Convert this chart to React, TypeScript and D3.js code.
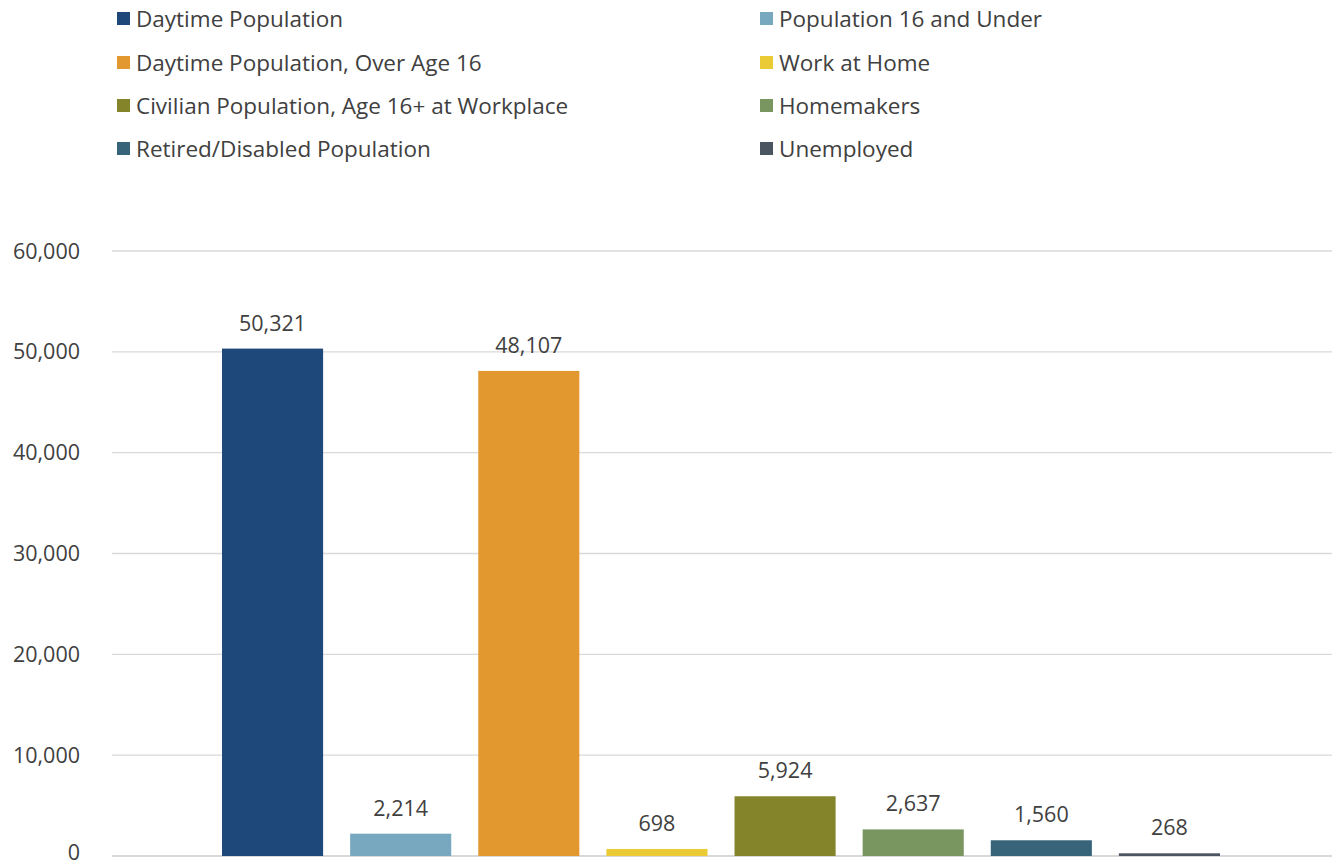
import React from "react";
import * as d3 from "d3";

const categories = [
  "Daytime Population",
  "Population 16 and Under",
  "Daytime Population, Over Age 16",
  "Work at Home",
  "Civilian Population, Age 16+ at Workplace",
  "Homemakers",
  "Retired/Disabled Population",
  "Unemployed",
];
const values = [50321, 2214, 48107, 698, 5924, 2637, 1560, 268];
const colors = ["#1F487A", "#78A8BF", "#E3982F", "#EACB35", "#84852A", "#7A9660", "#386479", "#4B5461"];
const yTicks = [0, 10000, 20000, 30000, 40000, 50000, 60000];

const W = 1332, H = 867;
const FONT = "'Open Sans', 'Noto Sans', sans-serif";

export default function App() {
  const y = d3.scaleLinear().domain([0, 60000]).range([856, 251]);
  const x = d3.scaleBand<string>().domain(categories).range([222, 1220]).paddingInner(27 / 128).paddingOuter(0);
  const fmt = d3.format(",");
  const legendCols = [117, 760];
  const legendRows = [19, 63, 106, 149];
  return (
    <svg width={W} height={H} style={{ position: "absolute", left: 0, top: 0, background: "#fff" }} fontFamily={FONT}>
      {yTicks.map((t) => (
        <g key={t}>
          <line x1={112} x2={1332} y1={y(t)} y2={y(t)} stroke="#D9D9D9" strokeWidth={t === 0 ? 2 : 1.3} />
          <text x={80} y={Math.min(y(t), 852)} dy="0.35em" textAnchor="end" fontSize={21.5} fill="#404040">{fmt(t)}</text>
        </g>
      ))}
      {categories.map((c, i) => (
        <g key={c}>
          <rect x={x(c)} y={y(values[i])} width={x.bandwidth()} height={y(0) - y(values[i])} fill={colors[i]} />
          <text x={(x(c) as number) + x.bandwidth() / 2} y={y(values[i]) - 18} textAnchor="middle" fontSize={21.5} fill="#404040">{fmt(values[i])}</text>
        </g>
      ))}
      {categories.map((c, i) => {
        const col = i % 2, row = Math.floor(i / 2);
        const lx = legendCols[col], ly = legendRows[row];
        return (
          <g key={"l" + c}>
            <rect x={lx} y={ly - 7} width={13} height={13} fill={colors[i]} />
            <text x={lx + 19} y={ly} dy="0.35em" fontSize={22.5} fill="#404040">{c}</text>
          </g>
        );
      })}
    </svg>
  );
}
